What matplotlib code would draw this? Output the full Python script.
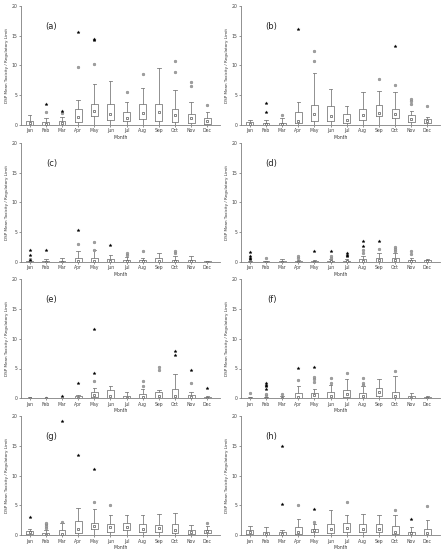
import numpy as np
import matplotlib
matplotlib.use("Agg")
import matplotlib.pyplot as plt

months = ["Jan", "Feb", "Mar", "Apr", "May", "Jun", "Jul", "Aug", "Sep", "Oct", "Nov", "Dec"]
panel_labels = ["(a)", "(b)", "(c)", "(d)", "(e)", "(f)", "(g)", "(h)"]

# per panel: box bottom, box top, upper whisker, mean
q1_a = [0, 0, 0, 0.5, 1.5, 0.8, 0.6, 1.0, 0.7, 0.4, 0.3, 0.1]
q3_a = [0.6, 0.5, 0.6, 2.7, 3.5, 3.5, 2.1, 3.5, 3.5, 2.6, 1.8, 1.1]
whi_a = [1.7, 1.1, 1.3, 4.1, 6.8, 7.4, 3.8, 6.2, 9.5, 5.8, 3.9, 2.1]
mean_a = [0.3, 0.2, 0.3, 1.3, 2.4, 1.8, 1.2, 2.0, 2.1, 1.6, 1.1, 0.6]
out_a = [[], [2.2], [2.0], [9.8], [10.3], [], [5.5], [8.5], [], [8.9, 10.7], [6.5, 7.2], [3.4]]
ext_a = [[], [3.5], [2.3], [15.6], [14.3, 14.4], [], [], [], [], [], [], []]

q1_b = [0, 0, 0, 0.3, 0.7, 0.6, 0.3, 0.8, 1.5, 1.1, 0.4, 0.3]
q3_b = [0.4, 0.3, 0.3, 2.2, 3.4, 3.1, 1.8, 2.6, 3.4, 2.6, 1.6, 1.0]
whi_b = [0.8, 0.9, 1.1, 3.8, 8.7, 6.1, 3.1, 5.6, 5.7, 5.5, 2.3, 1.3]
mean_b = [0.2, 0.1, 0.1, 0.6, 1.8, 1.5, 0.8, 1.7, 2.0, 1.9, 1.0, 0.6]
out_b = [[], [], [1.6], [], [10.7, 12.5], [], [], [], [7.8], [6.7], [3.5, 4.0, 4.3], [3.1]]
ext_b = [[], [2.1, 3.6], [], [16.1], [], [], [], [], [], [13.2], [], []]

q1_c = [0, 0, 0, 0, 0, 0, 0, 0, 0, 0, 0, 0]
q3_c = [0.1, 0.1, 0.1, 0.6, 0.6, 0.5, 0.3, 0.3, 0.6, 0.3, 0.3, 0.1]
whi_c = [0.2, 0.5, 0.6, 1.8, 2.0, 1.2, 0.8, 0.7, 1.4, 1.0, 0.9, 0.2]
mean_c = [0.05, 0.05, 0.05, 0.2, 0.2, 0.2, 0.1, 0.1, 0.2, 0.1, 0.1, 0.05]
out_c = [[0.5], [], [], [3.0], [2.0, 3.3], [], [1.2, 1.5], [1.8], [], [1.5, 1.8], [], []]
ext_c = [[0.3, 1.2, 2.0], [2.0], [], [5.3], [], [2.9], [], [], [], [], [], []]

q1_d = [0, 0, 0, 0, 0, 0, 0, 0, 0, 0, 0, 0]
q3_d = [0.05, 0.1, 0.1, 0.1, 0.1, 0.2, 0.2, 0.5, 0.6, 0.6, 0.3, 0.3]
whi_d = [0.1, 0.2, 0.4, 0.3, 0.3, 0.5, 0.5, 1.0, 1.5, 1.4, 0.7, 0.4]
mean_d = [0.02, 0.05, 0.05, 0.05, 0.05, 0.1, 0.1, 0.2, 0.3, 0.3, 0.1, 0.1]
out_d = [[], [0.6], [], [0.6, 0.9], [], [0.7, 1.0], [], [1.5, 2.0], [2.2], [1.8, 2.2, 2.5], [1.3, 1.9], []]
ext_d = [[0.4, 0.7, 1.0, 1.6], [], [], [], [1.8], [1.8], [0.9, 1.2, 1.5], [2.7, 3.5], [3.5], [], [], []]

q1_e = [0, 0, 0, 0, 0.2, 0, 0, 0, 0, 0, 0, 0]
q3_e = [0.1, 0.05, 0.1, 0.4, 1.0, 1.3, 0.4, 0.7, 1.1, 1.5, 0.6, 0.2]
whi_e = [0.2, 0.05, 0.1, 0.5, 1.7, 2.0, 1.0, 1.5, 1.3, 4.0, 1.0, 0.3]
mean_e = [0.05, 0.02, 0.05, 0.1, 0.5, 0.4, 0.1, 0.2, 0.4, 0.4, 0.2, 0.05]
out_e = [[], [], [], [], [2.9], [], [], [2.0, 2.9], [4.8, 5.2], [], [2.6], []]
ext_e = [[], [0.1], [0.3], [2.5], [4.3, 11.7], [], [], [], [], [7.2, 7.9], [4.7], [1.8]]

q1_f = [0, 0, 0, 0, 0.1, 0.1, 0.2, 0.1, 0.3, 0, 0, 0]
q3_f = [0.1, 0.1, 0.1, 0.8, 0.9, 1.0, 1.4, 0.9, 1.7, 1.1, 0.3, 0.2]
whi_f = [0.2, 0.2, 0.3, 2.0, 1.5, 2.2, 3.3, 2.0, 3.3, 3.8, 0.9, 0.3]
mean_f = [0.05, 0.05, 0.05, 0.2, 0.5, 0.4, 0.7, 0.3, 1.0, 0.3, 0.1, 0.05]
out_f = [[0.8], [0.5, 0.7], [0.7], [3.0], [2.8, 3.2, 3.5], [2.6, 3.4], [4.2], [2.3, 2.6, 3.4], [], [4.6], [], []]
ext_f = [[], [1.6, 2.0, 2.3, 2.6], [], [5.1], [5.3], [], [], [], [], [], [], []]

q1_g = [0.2, 0, 0, 0.3, 1.0, 0.6, 0.9, 0.6, 0.6, 0.4, 0.2, 0.3]
q3_g = [0.7, 0.4, 0.8, 2.3, 2.0, 1.9, 2.0, 1.8, 1.7, 1.8, 0.9, 0.9]
whi_g = [1.0, 0.8, 2.0, 4.6, 4.4, 3.4, 3.4, 3.4, 3.6, 3.8, 1.7, 1.6]
mean_g = [0.5, 0.1, 0.2, 1.0, 1.5, 1.3, 1.3, 1.0, 1.2, 0.8, 0.5, 0.7]
out_g = [[], [1.2, 1.5, 1.8, 2.1], [2.2], [], [5.6], [5.1], [], [], [], [], [], [2.0]]
ext_g = [[3.1], [], [19.3], [13.5], [11.2], [], [], [], [], [], [], []]

q1_h = [0.2, 0, 0, 0.2, 0.6, 0.4, 0.6, 0.5, 0.5, 0.2, 0.1, 0]
q3_h = [0.9, 0.6, 0.5, 1.3, 1.0, 1.9, 2.0, 1.8, 1.8, 1.5, 0.6, 1.0]
whi_h = [1.5, 1.3, 0.8, 2.8, 1.8, 4.3, 3.4, 3.6, 3.4, 3.4, 1.4, 2.6]
mean_h = [0.6, 0.2, 0.2, 0.6, 0.8, 1.0, 1.2, 1.0, 1.0, 0.6, 0.3, 0.3]
out_h = [[], [], [], [5.0], [2.2], [], [5.5], [], [], [4.2], [], [4.9]]
ext_h = [[], [], [5.2, 15.0], [], [4.4], [], [], [], [], [], [2.7], []]

panels = [
    (q1_a, q3_a, whi_a, mean_a, out_a, ext_a),
    (q1_b, q3_b, whi_b, mean_b, out_b, ext_b),
    (q1_c, q3_c, whi_c, mean_c, out_c, ext_c),
    (q1_d, q3_d, whi_d, mean_d, out_d, ext_d),
    (q1_e, q3_e, whi_e, mean_e, out_e, ext_e),
    (q1_f, q3_f, whi_f, mean_f, out_f, ext_f),
    (q1_g, q3_g, whi_g, mean_g, out_g, ext_g),
    (q1_h, q3_h, whi_h, mean_h, out_h, ext_h),
]

fig = plt.figure(figsize=(4.43, 5.5), dpi=100)
gray = "#7f7f7f"
lefts = [0.047, 0.544]
bottoms = [0.773, 0.524, 0.276, 0.027]

for k, (q1, q3, whi, mn, outl, ext) in enumerate(panels):
    ax = fig.add_axes([lefts[k % 2], bottoms[k // 2], 0.45, 0.216])
    pos = np.arange(1, 13)
    stats = []
    for i in range(12):
        stats.append(dict(q1=q1[i], q3=q3[i], med=mn[i], mean=mn[i],
                          whislo=0.0, whishi=whi[i], fliers=[]))
    ax.bxp(stats, positions=pos, widths=0.42, showmeans=True, showfliers=False,
           boxprops=dict(color=gray, linewidth=0.6),
           whiskerprops=dict(color=gray, linewidth=0.6),
           capprops=dict(color=gray, linewidth=0.6),
           medianprops=dict(linewidth=0),
           meanprops=dict(marker="s", markersize=2.0, markerfacecolor="white",
                          markeredgecolor="#555555", markeredgewidth=0.5))
    for i in range(12):
        if outl[i]:
            ax.plot([pos[i]] * len(outl[i]), outl[i], "o", ms=2.0,
                    mfc="#a0a0a0", mec="#808080", mew=0.3)
        if ext[i]:
            ax.plot([pos[i]] * len(ext[i]), ext[i], "*", ms=2.4,
                    color="black", mew=0.2)

    ax.set_xlim(0.45, 12.8)
    ax.set_ylim(0, 20)
    ax.set_xticks(pos)
    ax.set_xticklabels(months)
    ax.set_yticks([0, 5, 10, 15, 20])
    ax.tick_params(labelsize=3.3, length=1.5, width=0.4, colors="#444444", pad=1)
    for s in ["top", "right"]:
        ax.spines[s].set_visible(False)
    for s in ["left", "bottom"]:
        ax.spines[s].set_color(gray)
        ax.spines[s].set_linewidth(0.6)
    ax.set_xlabel("Month", fontsize=3.3, labelpad=1, color="#333333")
    ax.set_ylabel("DSP Mean Toxicity / Regulatory Limit", fontsize=3.0,
                  labelpad=2, color="#333333")
    ax.text(2.35, 16.6, panel_labels[k], fontsize=6, ha="center", va="center",
            color="#222222")

fig.savefig("out.png", dpi=100)
